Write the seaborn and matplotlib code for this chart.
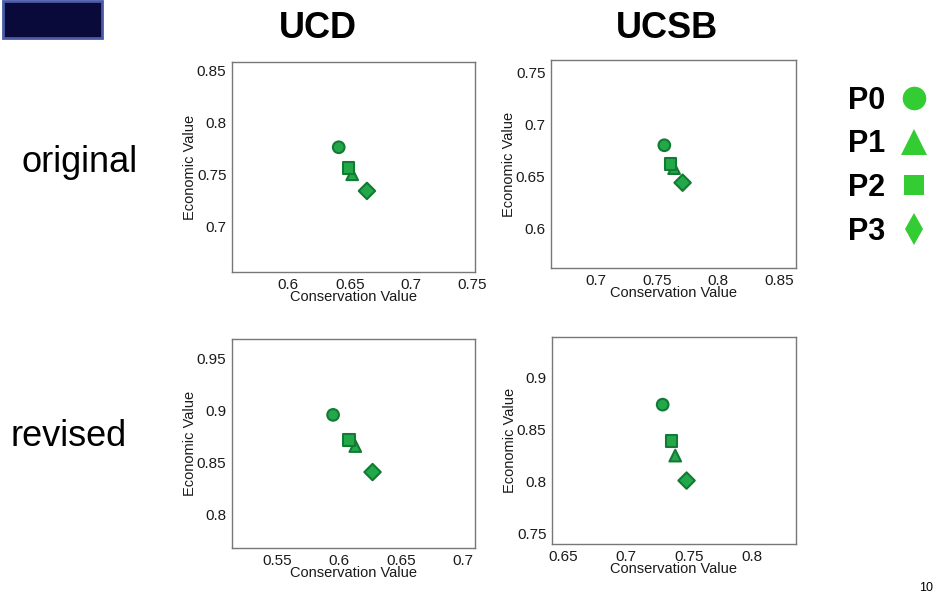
import matplotlib
matplotlib.use("Agg")
import matplotlib.pyplot as plt
import matplotlib.patches as mpatches
from matplotlib.lines import Line2D
import pandas as pd
import seaborn as sns

# policies and marker shapes
policies = ['P0', 'P1', 'P2', 'P3']
shapes = {'P0': 'o', 'P1': '^', 'P2': 's', 'P3': 'D'}
legend_shapes = {'P0': 'o', 'P1': '^', 'P2': 's', 'P3': 'd'}

# values (conservation, economic)
ucd_orig_x = [0.641, 0.652, 0.649, 0.664]
ucd_orig_y = [0.776, 0.750, 0.756, 0.734]
ucsb_orig_x = [0.756, 0.764, 0.761, 0.771]
ucsb_orig_y = [0.680, 0.658, 0.662, 0.644]
ucd_rev_x = [0.595, 0.613, 0.608, 0.627]
ucd_rev_y = [0.896, 0.866, 0.872, 0.841]
ucsb_rev_x = [0.729, 0.739, 0.736, 0.748]
ucsb_rev_y = [0.874, 0.825, 0.839, 0.801]

panels = [
    (ucd_orig_x, ucd_orig_y, (0.554, 0.752), (0.656, 0.858), [0.6, 0.65, 0.7, 0.75], [0.7, 0.75, 0.8, 0.85]),
    (ucsb_orig_x, ucsb_orig_y, (0.663, 0.864), (0.562, 0.762), [0.7, 0.75, 0.8, 0.85], [0.6, 0.65, 0.7, 0.75]),
    (ucd_rev_x, ucd_rev_y, (0.513, 0.710), (0.768, 0.969), [0.55, 0.6, 0.65, 0.7], [0.8, 0.85, 0.9, 0.95]),
    (ucsb_rev_x, ucsb_rev_y, (0.641, 0.835), (0.740, 0.939), [0.65, 0.7, 0.75, 0.8], [0.75, 0.8, 0.85, 0.9]),
]
boxes = [
    [0.2465, 0.5474, 0.2582, 0.3494],
    [0.5855, 0.5541, 0.2604, 0.3461],
    [0.2465, 0.0882, 0.2582, 0.3478],
    [0.5866, 0.0948, 0.2593, 0.3444],
]

sns.set_style("white")
plt.rcParams['font.family'] = ['Liberation Sans', 'DejaVu Sans']
plt.rcParams['text.color'] = 'black'

fig = plt.figure(figsize=(9.41, 6.01), dpi=100)
fig.patch.set_facecolor('white')

pt_color = '#22a84a'
edge_color = '#127a32'

for (xs, ys, xl, yl, xt, yt), box in zip(panels, boxes):
    ax = fig.add_axes(box)
    df = pd.DataFrame({'cons': xs, 'econ': ys, 'policy': policies})
    sns.scatterplot(data=df, x='cons', y='econ', style='policy', markers=shapes,
                    color=pt_color, edgecolor=edge_color, linewidth=1.5, s=70,
                    legend=False, ax=ax)
    ax.set_xlim(*xl)
    ax.set_ylim(*yl)
    ax.set_xticks(xt)
    ax.set_yticks(yt)
    ax.set_xticklabels([('%g' % v) for v in xt])
    ax.set_yticklabels([('%g' % v) for v in yt])
    ax.tick_params(length=0, labelsize=11, pad=4, colors='#1a1a1a')
    ax.set_xlabel('Conservation Value', fontsize=10.5, labelpad=-1, color='#1a1a1a')
    ax.set_ylabel('Economic Value', fontsize=10.5, labelpad=0, color='#1a1a1a')
    for sp in ax.spines.values():
        sp.set_color('#777777')
        sp.set_linewidth(1.0)

# column and row titles
fig.text(318 / 941, 1 - 28 / 601, 'UCD', fontsize=26, fontweight='bold', ha='center', va='center')
fig.text(667 / 941, 1 - 28 / 601, 'UCSB', fontsize=26, fontweight='bold', ha='center', va='center')
fig.text(80 / 941, 1 - 162 / 601, 'original', fontsize=26, ha='center', va='center')
fig.text(69 / 941, 1 - 436 / 601, 'revised', fontsize=26, ha='center', va='center')
fig.text(926 / 941, 1 - 588 / 601, '10', fontsize=9, ha='center', va='center')

# legend on the right
msize = {'P0': 17, 'P1': 19, 'P2': 14, 'P3': 16}
handles = [Line2D([], [], linestyle='none', marker=legend_shapes[p], color='#33cc33',
                  markersize=msize[p], markeredgewidth=0) for p in policies]
leg = fig.legend(handles, policies, loc='upper left', bbox_to_anchor=(820 / 941, 1 - 58 / 601),
                 frameon=False, markerfirst=False, handlelength=1.2, handletextpad=0.35,
                 labelspacing=0.45, prop={'size': 22, 'weight': 'bold'})

# logo block in the corner
fig.patches.append(mpatches.Rectangle((3 / 941, 1 - 38 / 601), 99 / 941, 37 / 601,
                                      transform=fig.transFigure, facecolor='#0a0a3a',
                                      edgecolor='#4a5aa8', linewidth=2))

fig.savefig('out.png', dpi=100)
